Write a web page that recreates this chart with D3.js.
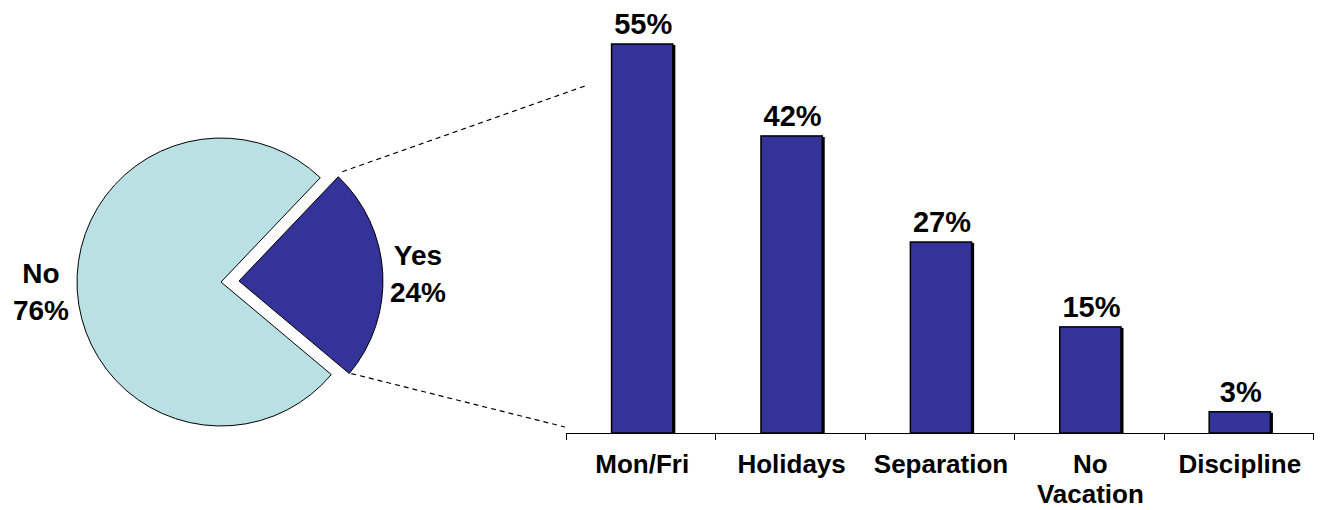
<!DOCTYPE html>
<html>
<head>
<meta charset="utf-8">
<script src="https://cdn.jsdelivr.net/npm/d3@7"></script>
<style>
  html, body { margin: 0; padding: 0; background: #fff; }
  svg { display: block; font-family: "Liberation Sans", Arial, sans-serif; font-weight: bold; }
</style>
</head>
<body>
<svg id="chart" width="1320" height="510"></svg>
<script>
// ---- data ----
const pieLabels = ["Yes", "No"];
const pieValues = [24, 76];
const pieColors = ["#333399", "#B9E0E3"];

const categories = [["Mon/Fri"], ["Holidays"], ["Separation"], ["No", "Vacation"], ["Discipline"]];
const categoryKeys = ["Mon/Fri", "Holidays", "Separation", "No Vacation", "Discipline"];
const barValues = [55, 42, 27, 15, 3];

// ---- layout ----
const svg = d3.select("#chart");
const cx = 221, cy = 282, R = 144, explode = 18;
const deg = Math.PI / 180;
const start = 43.6 * deg;

const pie = d3.pie().sort(null).startAngle(start).endAngle(start + 2 * Math.PI);
const arcs = pie(pieValues);
const arc = d3.arc().innerRadius(0).outerRadius(R);

const gPie = svg.append("g").attr("transform", `translate(${cx},${cy})`);
arcs.forEach((a, i) => {
  const mid = (a.startAngle + a.endAngle) / 2;
  const off = i === 0 ? explode : 0;
  const dx = off * Math.sin(mid), dy = -off * Math.cos(mid);
  gPie.append("path")
    .attr("d", arc(a))
    .attr("transform", `translate(${dx},${dy})`)
    .attr("fill", pieColors[i])
    .attr("stroke", "#000")
    .attr("stroke-width", 1);
});

// pie labels
function multiText(x, y, lines, size, lh) {
  const t = svg.append("text").attr("x", x).attr("y", y)
    .attr("text-anchor", "middle").attr("font-size", size).attr("fill", "#000");
  lines.forEach((l, i) => t.append("tspan").attr("x", x).attr("dy", i === 0 ? 0 : lh).text(l));
}
multiText(41, 283, [pieLabels[1], pieValues[1] + "%"], 28, 37);
multiText(418, 265, [pieLabels[0], pieValues[0] + "%"], 28, 37);

// ---- bar chart ----
const x = d3.scaleBand().domain(categoryKeys).range([566, 1313]).paddingInner(0.59).paddingOuter(0.295);
const y = d3.scaleLinear().domain([0, 55]).range([433, 44]);

// dashed connector lines from the exploded slice corners
const yesA = arcs[0];
const yesMid = (yesA.startAngle + yesA.endAngle) / 2;
const ox = cx + explode * Math.sin(yesMid), oy = cy - explode * Math.cos(yesMid);
const c1 = [ox + R * Math.sin(yesA.startAngle), oy - R * Math.cos(yesA.startAngle)];
const c2 = [ox + R * Math.sin(yesA.endAngle), oy - R * Math.cos(yesA.endAngle)];
svg.append("line").attr("x1", c1[0] + 4).attr("y1", c1[1] - 5).attr("x2", 585).attr("y2", 86)
  .attr("stroke", "#000").attr("stroke-width", 1.2).attr("stroke-dasharray", "5,4");
svg.append("line").attr("x1", c2[0] + 2).attr("y1", c2[1]).attr("x2", 565).attr("y2", 427)
  .attr("stroke", "#000").attr("stroke-width", 1.2).attr("stroke-dasharray", "5,4");

// axis line and ticks
const gAxis = svg.append("g");
const [r0, r1] = x.range();
gAxis.append("line").attr("x1", r0).attr("x2", r1).attr("y1", y(0) + 0.5).attr("y2", y(0) + 0.5)
  .attr("stroke", "#000").attr("stroke-width", 1);
const edges = d3.range(categoryKeys.length + 1).map(i => r0 + i * (r1 - r0) / categoryKeys.length);
gAxis.selectAll("line.tick").data(edges).enter().append("line")
  .attr("class", "tick")
  .attr("x1", d => Math.round(d) + 0.5).attr("x2", d => Math.round(d) + 0.5)
  .attr("y1", y(0)).attr("y2", y(0) + 7)
  .attr("stroke", "#000").attr("stroke-width", 1);

// bars
const gBars = svg.append("g");
categoryKeys.forEach((k, i) => {
  const bx = x(k) + 1.5, bw = x.bandwidth(), by = y(barValues[i]), bh = y(0) - y(barValues[i]);
  gBars.append("rect").attr("x", bx + bw - 0.5).attr("y", by + 1).attr("width", 3).attr("height", bh - 1)
    .attr("fill", "#000");
  gBars.append("rect").attr("x", bx).attr("y", by).attr("width", bw).attr("height", bh)
    .attr("fill", "#333399").attr("stroke", "#000").attr("stroke-width", 1.5);
  svg.append("text").attr("x", bx + bw / 2 + 1).attr("y", by - 10)
    .attr("text-anchor", "middle").attr("font-size", 29).attr("fill", "#000")
    .text(barValues[i] + "%");
  multiText(bx + bw / 2, 473, categories[i], 26, 30);
});
</script>
</body>
</html>
